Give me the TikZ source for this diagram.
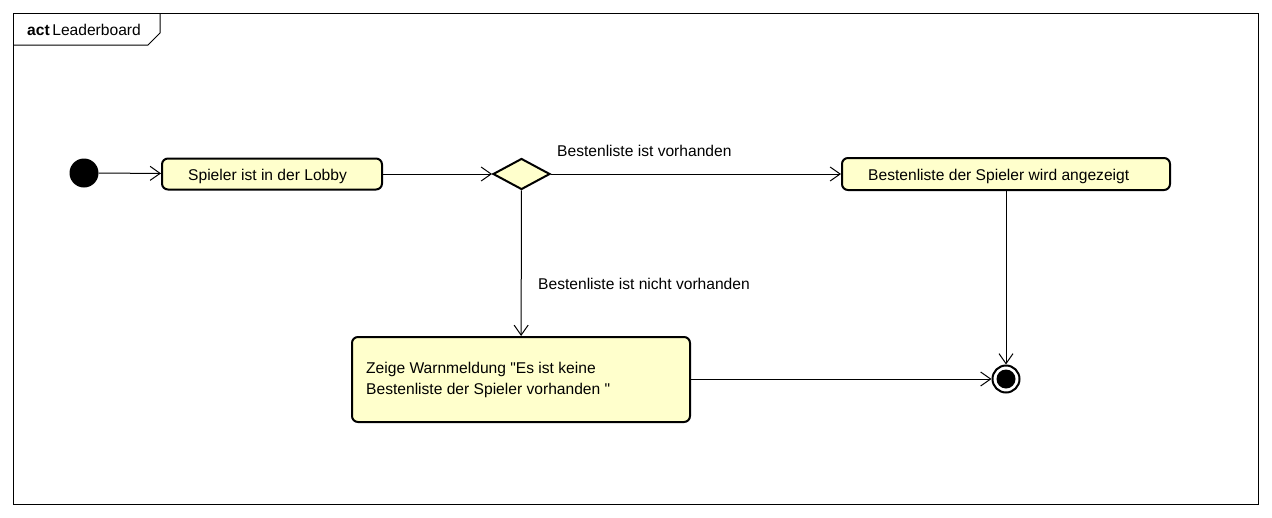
\documentclass[tikz,border=0pt]{standalone}
\usepackage{fontspec}
\setmainfont{Liberation Sans}
\newfontfamily\qf{Liberation Sans}
\usetikzlibrary{arrows.meta,shapes.geometric}
\begin{document}
\begin{tikzpicture}[x=1pt,y=-1pt,
  every node/.style={font=\fontsize{15.6}{21}\selectfont},
  action/.style={draw=black,line width=2pt,fill=actfill,rounded corners=6pt,inner sep=0pt},
  flow/.style={line width=1pt,-{Straight Barb[length=10pt,width=14pt,line width=1pt]}},
  lbl/.style={inner sep=0pt,anchor=west}]
\definecolor{actfill}{RGB}{255,255,204}
\useasboundingbox (0,0) rectangle (1272,517);
% frame
\draw[line width=1pt] (13,13) rectangle (1258,504);
\draw[line width=1pt] (13,45) -- (148,45) -- (160,33) -- (160,13);
\node[lbl] (title) at (27,30) {\textbf{act}\,Leaderboard};
% nodes
\node[circle,fill=black,minimum size=29pt,inner sep=0pt] (init) at (84,173) {};
\node[action,minimum width=220pt,minimum height=31pt] (lobby) at (272,174) {};
\node[lbl] (lobbytext) at (188,176) {Spieler ist in der Lobby};
\node[diamond,draw=black,line width=2pt,fill=actfill,minimum width=57pt,minimum height=31pt,inner sep=0pt,aspect=1.84] (dec) at (521.5,174) {};
\node[action,minimum width=328pt,minimum height=32pt] (show) at (1006,174) {};
\node[lbl] (showtext) at (868,176) {Bestenliste der Spieler wird angezeigt};
\node[action,minimum width=338pt,minimum height=85pt] (warn) at (521,379.5) {};
\node[anchor=west,align=left,inner sep=0pt] (warntext) at (366,380) {Zeige Warnmeldung {\qf"}Es ist keine\\Bestenliste der Spieler vorhanden {\qf"}};
\node[circle,draw=black,line width=2pt,fill=white,minimum size=27pt,inner sep=0pt] (final) at (1006,379) {};
\node[circle,fill=black,minimum size=19pt,inner sep=0pt] (finalin) at (final.center) {};
% flows
\draw[flow] (init) -- (lobby);
\draw[flow] (lobby) -- (dec);
\draw[flow] (dec) -- (show);
\draw[flow] (dec) -- (warn);
\draw[flow] (show) -- (final);
\draw[flow] (warn.east |- final) -- (final);
% labels
\node[lbl] (l1) at (557,151) {Bestenliste ist vorhanden};
\node[lbl] (l2) at (538,284) {Bestenliste ist nicht vorhanden};
\end{tikzpicture}
\end{document}
